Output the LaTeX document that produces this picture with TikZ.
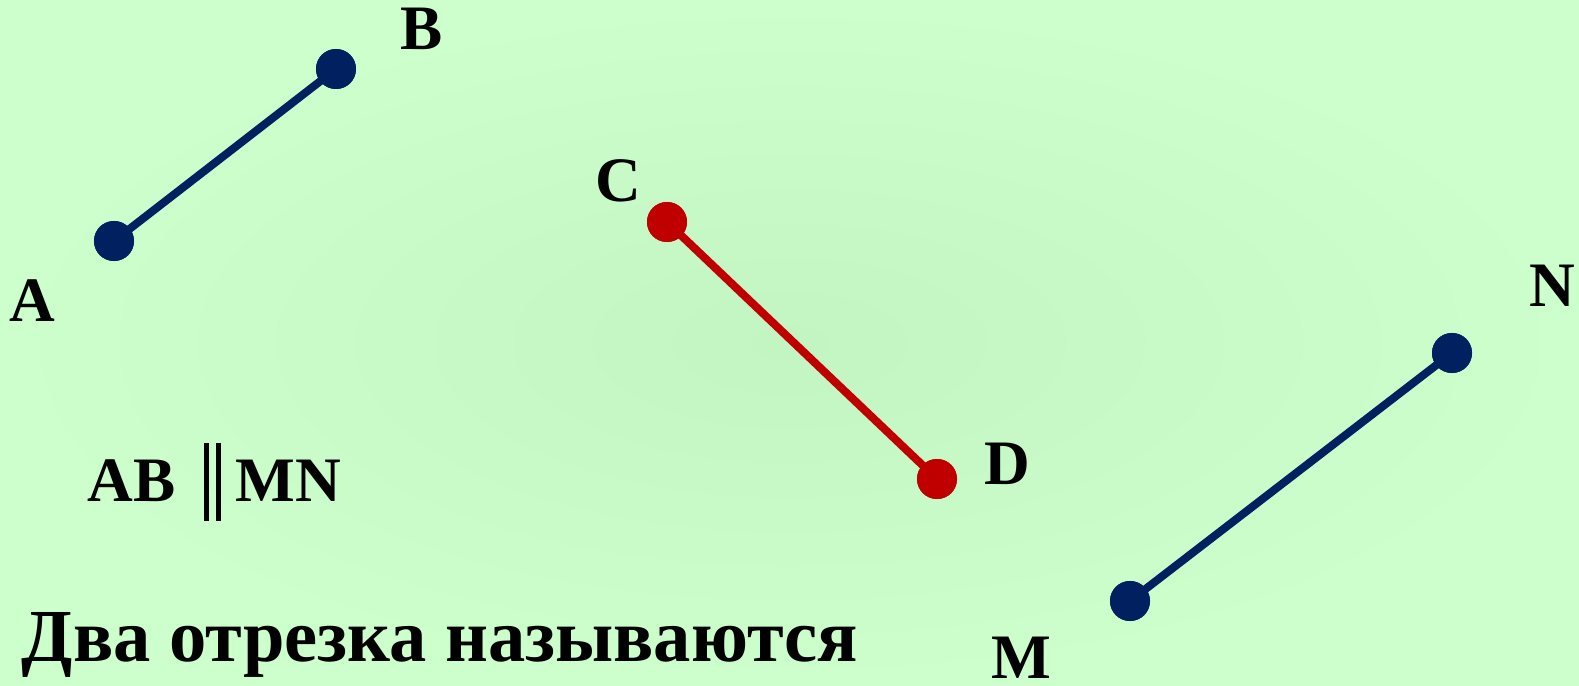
\documentclass[tikz,border=0pt]{standalone}
\usepackage{fontspec}
\setmainfont{Liberation Serif}
\usepackage{graphicx}
\definecolor{bgedge}{HTML}{CCFFCC}
\definecolor{bgmid}{HTML}{C2F5C2}
\definecolor{navy}{HTML}{002060}
\definecolor{segred}{HTML}{C00000}
\begin{document}
\begin{tikzpicture}[x=0.01cm,y=-0.01cm,
  bluedot/.style={circle,fill=navy,minimum size=0.4cm,inner sep=0pt},
  reddot/.style={circle,fill=segred,minimum size=0.4cm,inner sep=0pt},
  blueseg/.style={draw=navy,line width=0.08cm},
  redseg/.style={draw=segred,line width=0.08cm},
  lbl/.style={font=\fontsize{18pt}{20pt}\selectfont\bfseries,inner sep=0pt,anchor=base}]
\useasboundingbox (0,0) rectangle (1579,686);
\shade[inner color=bgmid,outer color=bgedge] (0,0) rectangle (1579,686);
% points
\node[bluedot] (A) at (114,241) {};
\node[bluedot] (B) at (336,69) {};
\node[reddot] (C) at (667,222) {};
\node[reddot] (D) at (937,479) {};
\node[bluedot] (M) at (1130,601) {};
\node[bluedot] (N) at (1452,353) {};
\draw[blueseg] (A.center) -- (B.center);
\draw[redseg] (C.center) -- (D.center);
\draw[blueseg] (M.center) -- (N.center);
\node[bluedot] at (A) {};
\node[bluedot] at (B) {};
\node[reddot] at (C) {};
\node[reddot] at (D) {};
\node[bluedot] at (M) {};
\node[bluedot] at (N) {};
% labels
\node[lbl] (lA) at (32,322) {A};
\node[lbl] (lB) at (422,50) {B};
\node[lbl] (lC) at (618,202) {C};
\node[lbl] (lD) at (1007,485) {D};
\node[lbl] (lN) at (1552,307) {N};
\node[lbl] (lM) at (1021,679) {M};
% AB || MN
\node[font=\fontsize{18pt}{20pt}\selectfont\bfseries,inner sep=0pt,anchor=base west] (par) at (87,502)
  {AB\hspace{0.28cm}\rule[-0.19cm]{0.05cm}{0.78cm}\hspace{0.07cm}\rule[-0.19cm]{0.05cm}{0.78cm}\hspace{0.15cm}MN};
% bottom text
\node[inner sep=0pt,anchor=base west] (txt) at (21,662)
  {\resizebox{8.36cm}{0.49cm}{\bfseries Два отрезка называются}};
\end{tikzpicture}
\end{document}
